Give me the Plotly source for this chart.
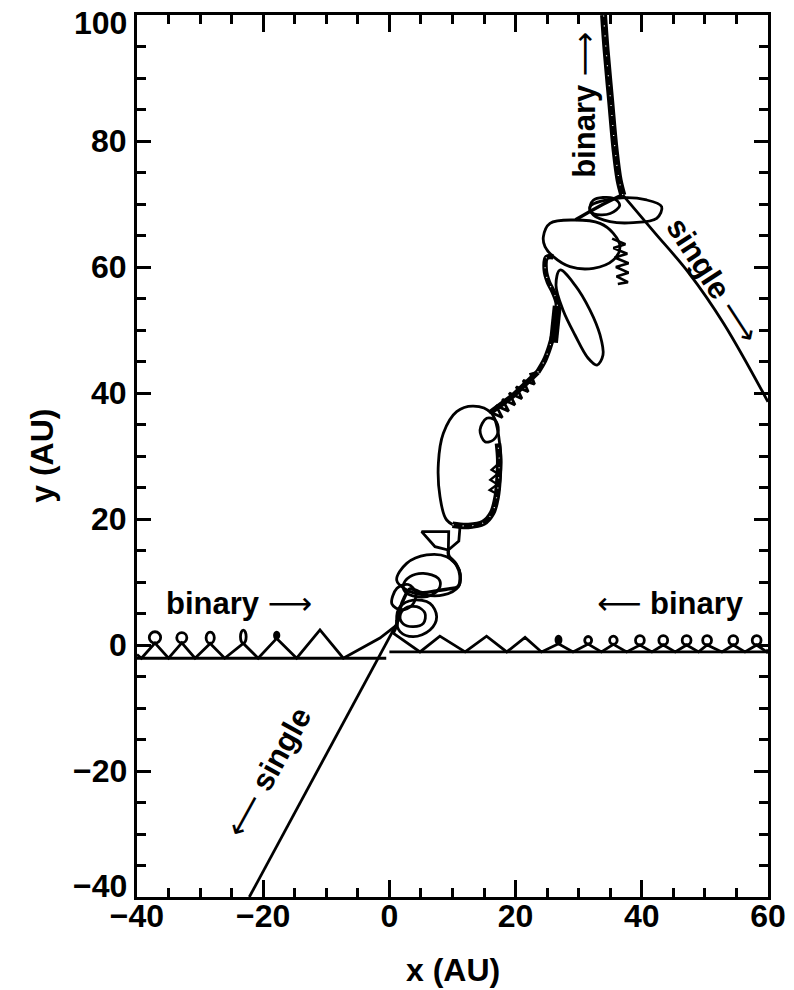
import plotly.graph_objects as go

# ---------------------------------------------------------------------------
# Trajectories in the orbital plane (AU)
# ---------------------------------------------------------------------------

# binary coming in from the left: primary runs along the bottom line,
# the companion traces arches with small loops on top
left_primary_x = [-40.0, -0.5]
left_primary_y = [-2.1, -2.1]

left_secondary_x = [-40.0, -39.3, -37.15, -35.0, -32.9, -30.8, -28.4, -26.1, -23.15,
                    -20.8, -17.86, -14.7, -11.0, -7.3, -1.5, 1.2, 1.15]
left_secondary_y = [-1.5, -2.1, 0.3, -2.1, 0.35, -2.1, 0.25, -2.1, 0.25,
                    -2.1, 1.05, -2.1, 2.4, -2.1, 1.1, 3.2, 3.97]

left_loop_x = [-37.15, -32.9, -28.4, -23.15, -17.86]
left_loop_y = [1.2, 1.15, 1.15, 1.3, 1.55]
left_loop_rx = [0.9, 0.8, 0.65, 0.45, 0.35]
left_loop_ry = [0.9, 0.8, 0.9, 1.05, 0.5]

# binary coming in from the right
right_primary_x = [0.0, 60.0]
right_primary_y = [-1.1, -1.1]

right_secondary_x = [60.0, 59.8, 58.2, 56.35, 54.5, 52.7, 50.35, 49.0, 47.1, 45.3, 43.4,
                     41.6, 39.7, 37.6, 35.5, 33.6, 31.5, 29.1, 26.8, 24.1, 21.5, 18.6,
                     15.4, 12.0, 8.0, 4.85, 0.6]
right_secondary_y = [-0.7, -1.1, 0.0, -1.1, 0.0, -1.1, 0.0, -1.1, 0.0, -1.1, 0.0,
                     -1.1, 0.0, -1.1, 0.1, -1.1, 0.15, -1.1, 0.2, -1.1, 1.2, -1.1,
                     1.4, -1.1, 1.4, -1.1, 1.9]

right_loop_x = [58.2, 54.5, 50.35, 47.1, 43.4, 39.7, 35.5, 31.5, 26.8]
right_loop_y = [0.75, 0.75, 0.75, 0.75, 0.75, 0.75, 0.75, 0.75, 0.8]
right_loop_rx = [0.7, 0.7, 0.7, 0.7, 0.7, 0.7, 0.6, 0.55, 0.4]
right_loop_ry = [0.75, 0.75, 0.75, 0.75, 0.75, 0.75, 0.65, 0.6, 0.6]

# close encounter near the origin
core_loop_a_x = [1.15, 2.74, 5.9, 9.07, 11.08, 10.92, 8.55, 5.38, 2.74]
core_loop_a_y = [10.3, 12.96, 14.3, 14.0, 11.9, 9.26, 7.94, 7.94, 8.73]
core_loop_b_x = [2.21, 3.26, 5.38, 7.75, 8.02, 6.7, 4.32, 2.47]
core_loop_b_y = [9.52, 10.85, 11.38, 10.58, 9.26, 7.94, 7.67, 8.47]
core_loop_c_x = [1.15, 1.68, 3.79, 6.43, 7.49, 6.43, 3.79, 1.68]
core_loop_c_y = [3.97, 6.08, 7.14, 6.61, 4.5, 2.38, 1.32, 2.12]
core_loop_d_x = [1.68, 2.47, 4.32, 5.64, 5.38, 3.79, 2.21]
core_loop_d_y = [4.5, 5.82, 6.08, 5.03, 3.44, 2.91, 3.33]
core_loop_e_x = [0.4, 1.2, 3.0, 4.2, 3.6, 1.9]
core_loop_e_y = [6.5, 9.0, 9.6, 8.2, 6.3, 5.6]

core_link_x = [0.6, 1.1, 1.6, 2.4, 3.3, 5.2, 7.4, 9.4, 10.9, 11.2, 10.6, 9.4, 9.34]
core_link_y = [1.9, 3.0, 5.5, 7.6, 8.9, 8.3, 8.6, 8.9, 9.3, 11.0, 12.8, 14.2, 15.08]

bowtie_x = [9.34, 9.4, 5.11, 7.23, 9.34, 11.0, 11.19]
bowtie_y = [15.08, 18.0, 18.0, 15.6, 15.08, 16.5, 18.78]

# large loop above the encounter
ellipse_1_x = [13.3, 16.2, 17.53, 17.53, 16.74, 14.89, 11.19, 9.08, 8.02, 7.76, 8.55, 10.66]
ellipse_1_y = [37.93, 36.77, 31.48, 26.19, 21.95, 19.31, 18.78, 19.84, 23.54, 28.83, 33.6, 37.03]
ellipse_1_edge_x = [10.0, 12.5, 14.9, 16.3, 17.0, 17.3, 17.4, 17.2]
ellipse_1_edge_y = [19.1, 18.9, 19.4, 21.0, 23.5, 26.5, 29.5, 32.0]
ellipse_1_teeth_x = [17.0, 15.9, 17.1, 16.0, 17.2, 16.2, 17.3]
ellipse_1_teeth_y = [24.0, 24.6, 25.5, 26.2, 27.2, 27.8, 28.8]
small_loop_x = [14.36, 15.42, 16.74, 17.26, 16.47, 15.15]
small_loop_y = [34.12, 35.98, 35.71, 34.12, 32.54, 32.27]

# saw-toothed stretch leading up to the second group of loops
saw_x = [15.9, 17.9, 16.9, 18.9, 17.9, 19.9, 19.0, 21.0, 20.1, 22.0, 21.2, 23.0, 22.4, 23.5]
saw_y = [37.0, 36.1, 38.0, 37.1, 39.0, 38.1, 40.0, 39.1, 41.0, 40.2, 42.0, 41.4, 43.0, 43.3]
saw_spine_x = [16.0, 19.5, 23.5]
saw_spine_y = [36.9, 39.5, 43.3]

chain_x = [23.5, 24.6, 25.4, 26.0, 26.4, 26.6, 26.0, 25.2, 24.7, 24.9, 25.98]
chain_y = [43.3, 45.2, 47.3, 49.5, 52.0, 54.2, 56.0, 57.6, 59.5, 61.5, 61.64]
blob_x = [26.0, 26.3, 26.6]
blob_y = [48.0, 50.5, 53.8]

ellipse_2_x = [27.04, 29.41, 31.79, 33.38, 33.85, 32.9, 31.47, 29.41, 27.51, 26.4]
ellipse_2_y = [59.52, 57.14, 53.17, 49.21, 46.03, 44.44, 45.56, 49.21, 53.17, 57.14]

ellipse_3_x = [24.4, 25.45, 29.15, 33.38, 35.49, 36.55, 35.49, 32.32, 28.62, 25.98, 24.66]
ellipse_3_y = [64.8, 66.93, 67.46, 66.93, 65.34, 63.23, 61.11, 59.79, 60.05, 61.64, 63.23]
ellipse_3_teeth_x = [35.3, 37.4, 35.5, 37.7, 35.7, 37.9, 35.9, 37.9, 36.0, 37.8, 36.2]
ellipse_3_teeth_y = [64.5, 63.6, 63.0, 62.1, 61.5, 60.6, 60.0, 59.1, 58.5, 57.6, 57.3]

box_loop_x = [31.8, 32.3, 35.5, 36.5, 35.0, 32.5]
box_loop_y = [69.0, 70.6, 70.9, 69.8, 68.5, 68.4]

ellipse_4_x = [31.79, 36.0, 40.77, 43.15, 42.36, 38.66, 34.96, 32.32]
ellipse_4_y = [69.58, 70.9, 70.64, 69.58, 67.73, 67.04, 67.2, 68.25]

junction_link_x = [29.5, 33.0, 37.0]
junction_link_y = [67.5, 69.5, 71.5]

# products of the encounter
binary_out_x = [37.0, 36.4, 35.77, 35.05, 34.34, 33.94]
binary_out_y = [71.4, 73.81, 78.57, 86.51, 94.44, 100.0]

single_ne_x = [37.0, 42.0, 47.5, 53.0, 60.0]
single_ne_y = [71.4, 65.5, 59.0, 51.0, 38.6]

single_sw_x = [1.5, -22.2]
single_sw_y = [4.0, -40.0]

# text labels placed along the tracks
label_text = ["binary \u27f6", "\u27f5 binary", "binary \u27f6", "single \u27f6", "\u27f5 single"]
label_x = [-23.9, 44.5, 30.8, 51.3, -19.2]
label_y = [6.7, 6.7, 85.7, 57.9, -20.2]
label_angle = [0, 0, -90, 57, -61]

x_ticks = [-40, -20, 0, 20, 40, 60]
y_ticks = [-40, -20, 0, 20, 40, 60, 80, 100]

# ---------------------------------------------------------------------------
INK = "black"
LW = 2.8
FONT = "Liberation Sans, Arial, Helvetica, sans-serif"
ARROW_SPAN = '<span style="font-family:DejaVu Sans;font-weight:normal">{}</span>'

fig = go.Figure()


def path(xs, ys, width=LW, shape="linear", closed=False, color=INK, dash=None):
    if closed:
        xs = list(xs) + [xs[0]]
        ys = list(ys) + [ys[0]]
    fig.add_trace(go.Scatter(
        x=xs, y=ys, mode="lines",
        line=dict(color=color, width=width, shape=shape,
                  smoothing=1.0 if shape == "spline" else None, dash=dash),
        hoverinfo="skip", showlegend=False))


def beaded(xs, ys, width):
    # heavy stroke with sparse pale specks where tight orbits overlap
    path(xs, ys, width=width, shape="spline")
    path(xs, ys, width=1.2, shape="spline", color="white", dash="1px,9px")


# incoming binaries
path(left_primary_x, left_primary_y)
path(left_secondary_x, left_secondary_y)
path(right_primary_x, right_primary_y)
path(right_secondary_x, right_secondary_y)

# encounter region
for lx, ly in [(core_loop_a_x, core_loop_a_y), (core_loop_b_x, core_loop_b_y),
               (core_loop_c_x, core_loop_c_y), (core_loop_d_x, core_loop_d_y),
               (core_loop_e_x, core_loop_e_y)]:
    path(lx, ly, shape="spline", closed=True)
path(core_link_x, core_link_y, shape="spline", width=3.4)
path(bowtie_x, bowtie_y)

path(ellipse_1_x, ellipse_1_y, shape="spline", closed=True)
beaded(ellipse_1_edge_x, ellipse_1_edge_y, 6.5)
path(ellipse_1_teeth_x, ellipse_1_teeth_y, width=2.4)
path(small_loop_x, small_loop_y, shape="spline", closed=True)

path(saw_x, saw_y, width=2.8)
path(saw_spine_x, saw_spine_y, width=5.5)
beaded(chain_x, chain_y, 5.5)
path(blob_x, blob_y, width=9)

path(ellipse_2_x, ellipse_2_y, shape="spline", closed=True)
path(ellipse_3_x, ellipse_3_y, shape="spline", closed=True)
path(ellipse_3_teeth_x, ellipse_3_teeth_y, width=2.6)
path(box_loop_x, box_loop_y, shape="spline", closed=True)
path(ellipse_4_x, ellipse_4_y, shape="spline", closed=True)
path(junction_link_x, junction_link_y, shape="spline", width=3.4)

# outgoing products
beaded(binary_out_x, binary_out_y, 7)
path(single_ne_x, single_ne_y, shape="spline")
path(single_sw_x, single_sw_y)

# small epicyclic loops of the incoming companions
shapes = []
for cx, cy, rx, ry in zip(left_loop_x + right_loop_x, left_loop_y + right_loop_y,
                          left_loop_rx + right_loop_rx, left_loop_ry + right_loop_ry):
    shapes.append(dict(type="circle", xref="x", yref="y",
                       x0=cx - rx, x1=cx + rx, y0=cy - ry, y1=cy + ry,
                       line=dict(color=INK, width=LW),
                       fillcolor=INK if rx < 0.45 else "rgba(0,0,0,0)"))

label_font = dict(family=FONT, size=31, color=INK, weight="bold")
tick_font = dict(family=FONT, size=32, color=INK, weight="bold")

annotations = []
for t, x, y, a in zip(label_text, label_x, label_y, label_angle):
    for arrow in ("\u27f6", "\u27f5"):
        t = t.replace(arrow, ARROW_SPAN.format(arrow))
    annotations.append(dict(text=t, x=x, y=y, xref="x", yref="y", showarrow=False,
                            textangle=a, font=label_font))

# y tick labels; the two end labels sit just inside the frame
for v in y_ticks:
    shift = 0
    if v == y_ticks[0]:
        shift = 11
    elif v == y_ticks[-1]:
        shift = -8
    annotations.append(dict(text=f"{v:d}".replace("-", "\u2212"), x=0, y=v,
                            xref="paper", yref="y", xanchor="right", yanchor="middle",
                            xshift=-8, yshift=shift, showarrow=False, font=tick_font))

annotations.append(dict(text="x (AU)", x=0.5, y=-0.083, xref="paper", yref="paper",
                        showarrow=False, yanchor="middle",
                        font=dict(family=FONT, size=32, color=INK, weight="bold")))
annotations.append(dict(text="y (AU)", x=-0.151, y=0.5, xref="paper", yref="paper",
                        showarrow=False, textangle=-90, xanchor="center",
                        font=dict(family=FONT, size=32, color=INK, weight="bold")))

axis_common = dict(
    showgrid=False, zeroline=False, showline=True, linecolor=INK, linewidth=3,
    mirror="ticks", ticks="inside", tickwidth=2.5, tickcolor=INK,
    tickmode="array", automargin=False,
    tickfont=tick_font,
    minor=dict(dtick=5, ticks="inside", tickwidth=2.5, tickcolor=INK, ticklen=9),
)

fig.update_layout(
    width=794, height=990,
    margin=dict(l=137, r=26, t=15, b=93, pad=0, autoexpand=False),
    paper_bgcolor="white", plot_bgcolor="white",
    xaxis=dict(range=[-40, 60], tickvals=x_ticks, ticklen=17, ticklabelstandoff=-11,
               ticklabeloverflow="allow", **axis_common),
    yaxis=dict(range=[-40, 100], tickvals=y_ticks, ticklen=14, showticklabels=False,
               **axis_common),
    shapes=shapes,
    annotations=annotations,
    showlegend=False,
)

fig.write_html("out.html")
